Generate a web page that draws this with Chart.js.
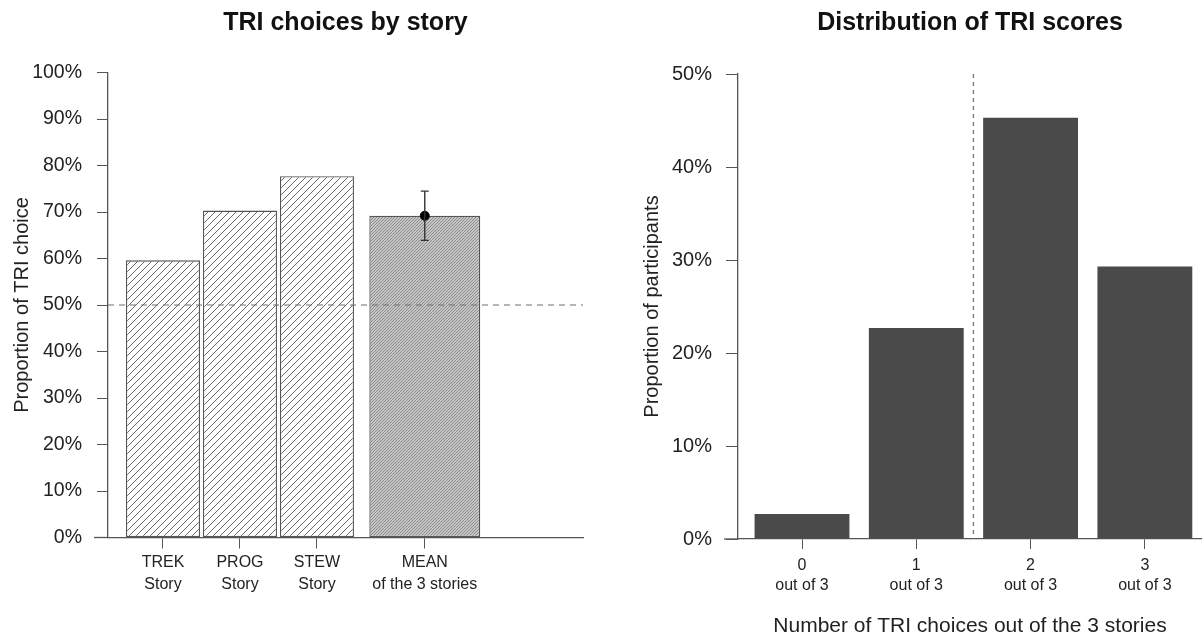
<!DOCTYPE html>
<html><head><meta charset="utf-8">
<script src="https://cdn.jsdelivr.net/npm/chart.js@4/dist/chart.umd.min.js"></script>
<style>
html,body{margin:0;padding:0;background:#fff;width:1202px;height:639px;overflow:hidden}
#left{position:absolute;left:0;top:0}
#right{position:absolute;left:600px;top:0}
</style></head><body>
<canvas id="left" width="600" height="639"></canvas>
<canvas id="right" width="602" height="639"></canvas>
<script>
// ---------- data ----------
const storyLabels = [['TREK', 'Story'], ['PROG', 'Story'], ['STEW', 'Story']];
const storyValues = [59.6, 70.3, 77.7];
const meanLabels = [['MEAN', 'of the 3 stories']];
const meanValues = [69.2];
const meanCiLow = [63.9];
const meanCiHigh = [74.5];
const chanceLevel = 50;
const leftTicks = [0, 10, 20, 30, 40, 50, 60, 70, 80, 90, 100];

const scoreValues = [0, 1, 2, 3];
const scoreLabels = [['0', 'out of 3'], ['1', 'out of 3'], ['2', 'out of 3'], ['3', 'out of 3']];
const scoreShares = [2.7, 22.7, 45.3, 29.3];
const scoreThreshold = 1.5;
const rightTicks = [0, 10, 20, 30, 40, 50];

// ---------- layout constants ----------
const MEAN_GAP = 0.4;            // extra gap (in bar slots) before the mean bar
const storyPos = storyValues.map((_, i) => i);
const meanPos = meanValues.map((_, i) => storyValues.length + MEAN_GAP + i);
const leftPos = storyPos.concat(meanPos);
const leftLabels = storyLabels.concat(meanLabels);

const FONT = '"Liberation Sans", Arial, Helvetica, sans-serif';
Chart.defaults.font.family = FONT;
Chart.defaults.color = '#222';

function makePattern(s, bg, fg, lw) {
  const c = document.createElement('canvas');
  c.width = c.height = s;
  const g = c.getContext('2d');
  g.fillStyle = bg; g.fillRect(0, 0, s, s);
  g.strokeStyle = fg; g.lineWidth = lw;
  g.beginPath();
  g.moveTo(-1, s + 1); g.lineTo(s + 1, -1);
  g.moveTo(-1, 1); g.lineTo(1, -1);
  g.moveTo(s - 1, s + 1); g.lineTo(s + 1, s - 1);
  g.stroke();
  return g.createPattern(c, 'repeat');
}
const ctxL = document.getElementById('left').getContext('2d');
const hatch = makePattern(7, '#ffffff', '#6a6a6a', 1);
const stipple = makePattern(3, '#c6c6c6', '#8c8c8c', 1);

function titlePlugin(text) {
  return {
    id: 'rtitle',
    afterDraw(chart) {
      const { ctx, chartArea } = chart;
      ctx.save();
      ctx.font = 'bold 25px ' + FONT;
      ctx.fillStyle = '#111';
      ctx.textAlign = 'center';
      ctx.textBaseline = 'alphabetic';
      ctx.fillText(text, (chartArea.left + chartArea.right) / 2, 30);
      ctx.restore();
    }
  };
}
function baselineExt(ext) {
  return {
    id: 'baseext',
    afterDraw(chart) {
      const { ctx, chartArea } = chart;
      ctx.save();
      ctx.strokeStyle = '#555'; ctx.lineWidth = 1.3;
      ctx.beginPath();
      ctx.moveTo(chartArea.left - ext, chartArea.bottom);
      ctx.lineTo(chartArea.left, chartArea.bottom);
      ctx.stroke();
      ctx.restore();
    }
  };
}

const leftExtras = {
  id: 'leftExtras',
  afterDatasetsDraw(chart) {
    const { ctx, chartArea, scales } = chart;
    const y50 = scales.y.getPixelForValue(chanceLevel);
    ctx.save();
    ctx.strokeStyle = '#6e6e6e'; ctx.lineWidth = 1.2;
    ctx.setLineDash([6, 5]);
    ctx.beginPath(); ctx.moveTo(chartArea.left, y50); ctx.lineTo(chartArea.right, y50); ctx.stroke();
    ctx.setLineDash([]);
    ctx.strokeStyle = '#333'; ctx.lineWidth = 1.4;
    meanPos.forEach((p, i) => {
      const x = scales.x.getPixelForValue(p);
      const yl = scales.y.getPixelForValue(meanCiLow[i]);
      const yh = scales.y.getPixelForValue(meanCiHigh[i]);
      ctx.beginPath();
      ctx.moveTo(x, yl); ctx.lineTo(x, yh);
      ctx.moveTo(x - 4, yl); ctx.lineTo(x + 4, yl);
      ctx.moveTo(x - 4, yh); ctx.lineTo(x + 4, yh);
      ctx.stroke();
    });
    ctx.restore();
  }
};

new Chart(ctxL, {
  type: 'bar',
  data: {
    datasets: [
      { type: 'bar', data: storyValues.map((v, i) => ({ x: storyPos[i], y: v })),
        backgroundColor: hatch, borderColor: '#555', borderWidth: 1.3, borderSkipped: false,
        grouped: false, categoryPercentage: 1, barPercentage: 0.961, order: 3 },
      { type: 'bar', data: meanValues.map((v, i) => ({ x: meanPos[i], y: v })),
        backgroundColor: stipple, borderColor: '#555', borderWidth: 1.3, borderSkipped: false,
        grouped: false, categoryPercentage: 1, barPercentage: 1.44, order: 2 },
      { type: 'line', data: meanValues.map((v, i) => ({ x: meanPos[i], y: v })),
        showLine: false, pointRadius: 4.5, pointBackgroundColor: '#000', pointBorderColor: '#000', order: 1 }
    ]
  },
  options: {
    responsive: false, animation: false, devicePixelRatio: 1,
    layout: { padding: { top: 72.5, right: 17, bottom: 0, left: 0 } },
    plugins: { legend: { display: false }, tooltip: { enabled: false } },
    scales: {
      x: {
        type: 'linear', min: -0.714, max: 5.455, offset: false,
        grid: { display: true, drawOnChartArea: false, drawTicks: true, tickLength: 11, color: '#555', offset: false },
        border: { display: true, color: '#555', width: 1.3 },
        afterBuildTicks: s => { s.ticks = leftPos.map(v => ({ value: v })); },
        afterFit: s => { s.height = 101.5; },
        ticks: { autoSkip: false, maxRotation: 0, padding: 3, color: '#222',
          font: { size: 16, lineHeight: 1.375 }, callback: (v, i) => leftLabels[i] }
      },
      y: {
        min: 0, max: 100,
        grid: { display: true, drawOnChartArea: false, drawTicks: true, tickLength: 11, color: '#555' },
        border: { display: true, color: '#555', width: 1.3 },
        afterBuildTicks: s => { s.ticks = leftTicks.map(v => ({ value: v })); },
        afterFit: s => { s.width = 108; },
        ticks: { padding: 15, font: { size: 19.5 }, color: '#222', callback: v => v + '%' },
        title: { display: true, text: 'Proportion of TRI choice', font: { size: 20 }, color: '#222', padding: { top: 10, bottom: 0 } }
      }
    }
  },
  plugins: [leftExtras, titlePlugin('TRI choices by story'), baselineExt(14)]
});

const rightExtras = {
  id: 'rightExtras',
  afterDatasetsDraw(chart) {
    const { ctx, chartArea, scales } = chart;
    const x = scales.x.getPixelForValue(scoreThreshold);
    ctx.save();
    ctx.strokeStyle = '#777'; ctx.lineWidth = 1.3;
    ctx.setLineDash([4, 4]);
    ctx.beginPath(); ctx.moveTo(x, chartArea.top); ctx.lineTo(x, chartArea.bottom); ctx.stroke();
    ctx.restore();
  }
};

new Chart(document.getElementById('right').getContext('2d'), {
  type: 'bar',
  data: {
    datasets: [{ data: scoreValues.map((s, i) => ({ x: s, y: scoreShares[i] })),
      backgroundColor: '#4a4a4a', borderWidth: 0, categoryPercentage: 1, barPercentage: 0.83 }]
  },
  options: {
    responsive: false, animation: false, devicePixelRatio: 1,
    layout: { padding: { top: 74, right: 0, bottom: 0, left: 0 } },
    plugins: { legend: { display: false }, tooltip: { enabled: false } },
    scales: {
      x: {
        type: 'linear', min: -0.56, max: 3.5, offset: false,
        grid: { display: true, drawOnChartArea: false, drawTicks: true, tickLength: 10, color: '#555', offset: false },
        border: { display: true, color: '#555', width: 1.3 },
        afterBuildTicks: s => { s.ticks = scoreValues.map(v => ({ value: v })); },
        afterFit: s => { s.height = 100; },
        ticks: { autoSkip: false, maxRotation: 0, padding: 7, color: '#222',
          font: { size: 16, lineHeight: 1.25 }, callback: (v, i) => scoreLabels[i] },
        title: { display: true, text: 'Number of TRI choices out of the 3 stories', font: { size: 21 }, color: '#222', padding: { top: 0, bottom: 0 } }
      },
      y: {
        min: 0, max: 50,
        grid: { display: true, drawOnChartArea: false, drawTicks: true, tickLength: 12, color: '#555' },
        border: { display: true, color: '#555', width: 1.3 },
        afterBuildTicks: s => { s.ticks = rightTicks.map(v => ({ value: v })); },
        afterFit: s => { s.width = 138; },
        ticks: { padding: 14, font: { size: 20 }, color: '#222', callback: v => v + '%' },
        title: { display: true, text: 'Proportion of participants', font: { size: 20 }, color: '#222', padding: { top: 40, bottom: 0 } }
      }
    }
  },
  plugins: [rightExtras, titlePlugin('Distribution of TRI scores'), baselineExt(14)]
});
</script>
</body></html>
